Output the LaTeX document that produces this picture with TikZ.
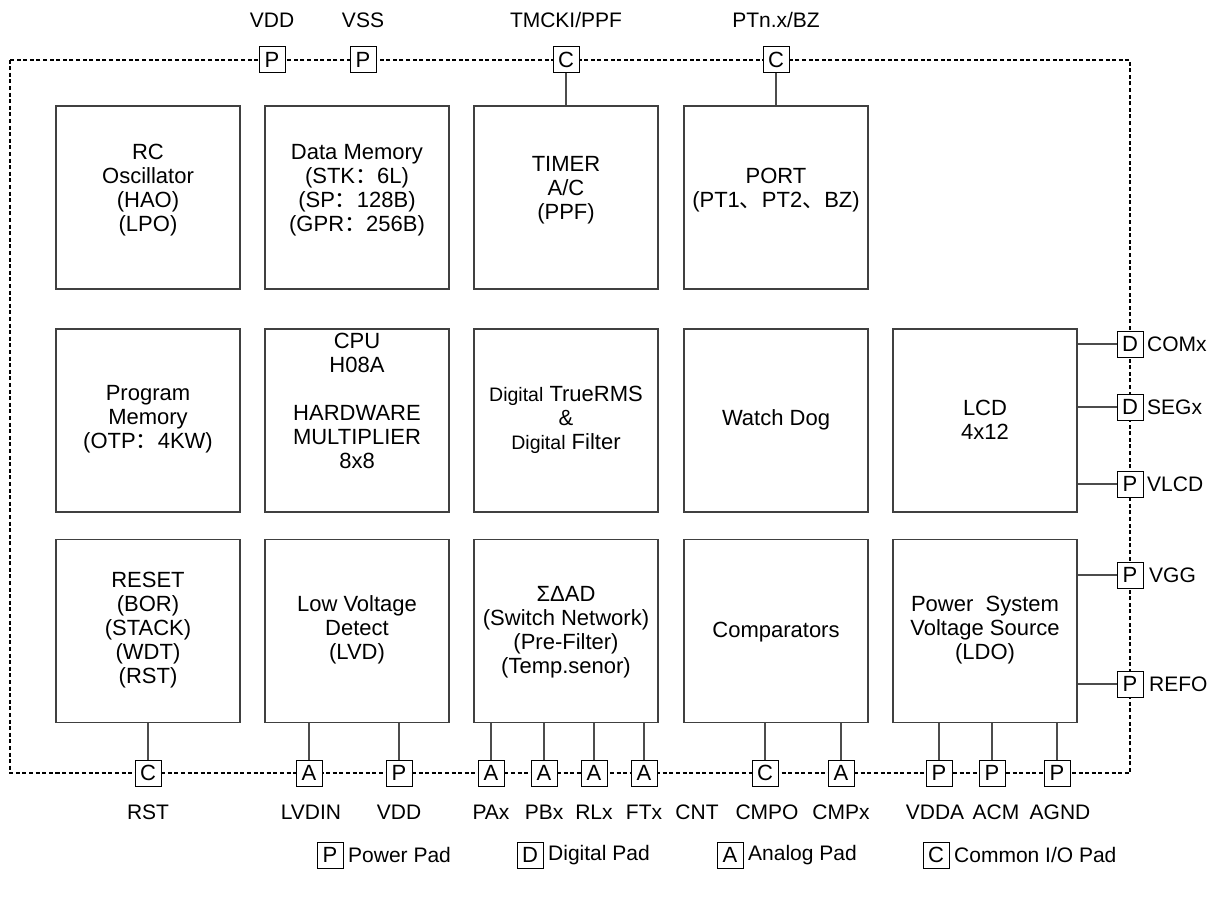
\documentclass[tikz,border=0pt]{standalone}
\usepackage{fontspec}
\setmainfont{Liberation Sans}
\newfontfamily\cjk{Noto Sans CJK SC}
\begin{document}
\begin{tikzpicture}[x=1pt,y=-1pt,
 blk/.style={draw=black!75,line width=1.3pt,minimum width=184pt,minimum height=183pt,inner sep=0pt},
 txt/.style={align=center,font=\fontsize{22}{24}\selectfont,inner sep=0pt},
 pad/.style={draw,fill=white,line width=1pt,minimum size=26pt,inner sep=0pt,font=\fontsize{22}{22}\selectfont},
 border/.style={line width=2pt,dash pattern=on 4pt off 2.6pt},
 tap/.style={line width=1.2pt,draw=black!70},
 plbl/.style={font=\fontsize{21}{24}\selectfont,inner sep=0pt}
]
\useasboundingbox (0,0) rectangle (1220,900);
% dotted chip border
\draw[border] (10,59.5) rectangle (1130,773);

% blocks row 1
\node[blk] (rc) at (148,197.5) {};
\node[blk] (dmem) at (357,197.5) {};
\node[blk] (timer) at (566,197.5) {};
\node[blk] (port) at (776,197.5) {};
% row 2
\node[blk] (pmem) at (148,420.5) {};
\node[blk] (cpu) at (357,420.5) {};
\node[blk] (rms) at (566,420.5) {};
\node[blk] (wdog) at (776,420.5) {};
\node[blk] (lcd) at (985,420.5) {};
% row 3
\node[blk] (reset) at (148,631) {};
\node[blk] (lvd) at (357,631) {};
\node[blk] (sad) at (566,631) {};
\node[blk] (comp) at (776,631) {};
\node[blk] (pwr) at (985,631) {};

% block texts
\node[txt] (trc) at (148,190) {RC\\Oscillator\\(HAO)\\(LPO)};
\node[txt] (tdmem) at (357,190) {Data Memory\\(STK{\cjk ：}6L)\\(SP{\cjk ：}128B)\\(GPR{\cjk ：}256B)};
\node[txt] (ttimer) at (566,190) {TIMER\\A/C\\(PPF)};
\node[txt] (tport) at (776,190) {PORT\\(PT1{\cjk 、}PT2{\cjk 、}BZ)};
\node[txt] (tpmem) at (148,419) {Program\\Memory\\(OTP{\cjk ：}4KW)};
\node[txt] (tcpu) at (357,401) {CPU\\H08A\\[24pt]HARDWARE\\MULTIPLIER\\8x8};
\node[txt] (trms) at (566,420) {{\fontsize{19.5}{24}\selectfont Digital} TrueRMS\\\&\\{\fontsize{19.5}{24}\selectfont Digital} Filter};
\node[txt] (twdog) at (776,420) {Watch Dog};
\node[txt] (tlcd) at (985,420) {LCD\\4x12};
\node[txt] (treset) at (148,630) {RESET\\(BOR)\\(STACK)\\(WDT)\\(RST)};
\node[txt] (tlvd) at (357,630) {Low Voltage\\Detect\\(LVD)};
\node[txt] (tsad) at (566,632) {ΣΔAD\\(Switch Network)\\(Pre-Filter)\\(Temp.senor)};
\node[txt] (tcomp) at (776,632) {Comparators};
\node[txt] (tpwr) at (985,630) {Power\ \ System\\Voltage Source\\(LDO)};

% top pads
\node[pad] (pVDD) at (272,59.5) {P};
\node[pad] (pVSS) at (363,59.5) {P};
\node[pad] (pTM) at (566,59.5) {C};
\node[pad] (pPT) at (776,59.5) {C};
\node[plbl] (lVDD) at (272,20) {VDD};
\node[plbl] (lVSS) at (363,20) {VSS};
\node[plbl] (lTM) at (566,20) {TMCKI/PPF};
\node[plbl] (lPT) at (776,20) {PTn.x/BZ};
\draw[tap] (pTM.south) -- (pTM.south |- timer.north);
\draw[tap] (pPT.south) -- (pPT.south |- port.north);

% bottom pads
\node[pad] (pRST) at (148,773) {C};
\node[pad] (pLVDIN) at (309,773) {A};
\node[pad] (pVDDb) at (399,773) {P};
\node[pad] (pPAx) at (491,773) {A};
\node[pad] (pPBx) at (544,773) {A};
\node[pad] (pRLx) at (594,773) {A};
\node[pad] (pFTx) at (644,773) {A};
\node[pad] (pCMPO) at (765,773) {C};
\node[pad] (pCMPx) at (841,773) {A};
\node[pad] (pVDDA) at (939,773) {P};
\node[pad] (pACM) at (992,773) {P};
\node[pad] (pAGND) at (1057,773) {P};
\draw[tap] (pRST.north) -- (pRST.north |- reset.south);
\draw[tap] (pLVDIN.north) -- (pLVDIN.north |- lvd.south);
\draw[tap] (pVDDb.north) -- (pVDDb.north |- lvd.south);
\draw[tap] (pPAx.north) -- (pPAx.north |- sad.south);
\draw[tap] (pPBx.north) -- (pPBx.north |- sad.south);
\draw[tap] (pRLx.north) -- (pRLx.north |- sad.south);
\draw[tap] (pFTx.north) -- (pFTx.north |- sad.south);
\draw[tap] (pCMPO.north) -- (pCMPO.north |- comp.south);
\draw[tap] (pCMPx.north) -- (pCMPx.north |- comp.south);
\draw[tap] (pVDDA.north) -- (pVDDA.north |- pwr.south);
\draw[tap] (pACM.north) -- (pACM.north |- pwr.south);
\draw[tap] (pAGND.north) -- (pAGND.north |- pwr.south);
\node[plbl] (lRST) at (148,812) {RST};
\node[plbl] (lLVDIN) at (311,812) {LVDIN};
\node[plbl] (lVDDb) at (399,812) {VDD};
\node[plbl] (lPAx) at (491,812) {PAx};
\node[plbl] (lPBx) at (544,812) {PBx};
\node[plbl] (lRLx) at (594,812) {RLx};
\node[plbl] (lFTx) at (644,812) {FTx};
\node[plbl] (lCNT) at (697,812) {CNT};
\node[plbl] (lCMPO) at (767,812) {CMPO};
\node[plbl] (lCMPx) at (841,812) {CMPx};
\node[plbl] (lVDDA) at (935,812) {VDDA};
\node[plbl] (lACM) at (996,812) {ACM};
\node[plbl] (lAGND) at (1060,812) {AGND};

% right pads
\node[pad] (pCOM) at (1130,344) {D};
\node[pad] (pSEG) at (1130,407) {D};
\node[pad] (pVLCD) at (1130,484) {P};
\node[pad] (pVGG) at (1130,575) {P};
\node[pad] (pREFO) at (1130,684) {P};
\draw[tap] (pCOM.west) -- (pCOM.west -| lcd.east);
\draw[tap] (pSEG.west) -- (pSEG.west -| lcd.east);
\draw[tap] (pVLCD.west) -- (pVLCD.west -| lcd.east);
\draw[tap] (pVGG.west) -- (pVGG.west -| pwr.east);
\draw[tap] (pREFO.west) -- (pREFO.west -| pwr.east);
\node[plbl,anchor=west] (lCOM) at (1147,344) {COMx};
\node[plbl,anchor=west] (lSEG) at (1147,407) {SEGx};
\node[plbl,anchor=west] (lVLCD) at (1147,484) {VLCD};
\node[plbl,anchor=west] (lVGG) at (1149,575) {VGG};
\node[plbl,anchor=west] (lREFO) at (1149,684) {REFO};

% legend
\node[pad] (gP) at (330,855) {P};
\node[plbl,anchor=west] (gPt) at (348,855) {Power Pad};
\node[pad] (gD) at (530,855) {D};
\node[plbl,anchor=west] (gDt) at (548,855) {Digital Pad};
\node[pad] (gA) at (730,855) {A};
\node[plbl,anchor=west] (gAt) at (748,855) {Analog Pad};
\node[pad] (gC) at (936,855) {C};
\node[plbl,anchor=west] (gCt) at (954,855) {Common I/O Pad};
\end{tikzpicture}
\end{document}
